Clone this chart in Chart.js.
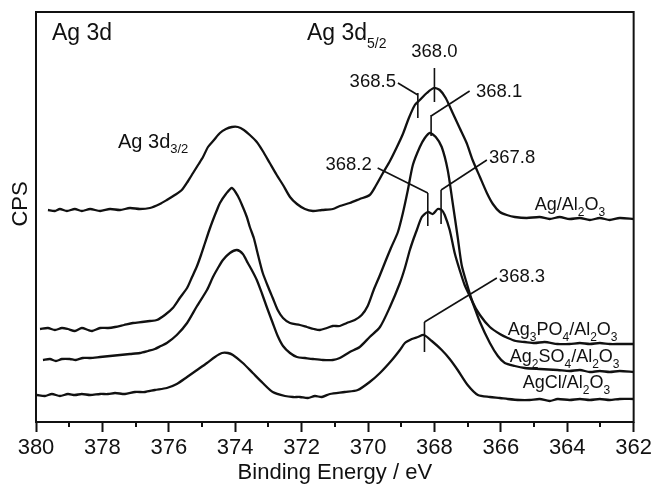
<!DOCTYPE html>
<html>
<head>
<meta charset="utf-8">
<script src="https://cdn.jsdelivr.net/npm/chart.js@4.4.1/dist/chart.umd.min.js"></script>
<style>
  html, body { margin: 0; padding: 0; background: #fff; }
  #wrap { width: 655px; height: 484px; }
</style>
</head>
<body>
<div id="wrap"><canvas id="myChart" width="655" height="484"></canvas></div>
<script>
// [binding energy (eV), CPS (arb. units)]
const agAl2O3 = [
  [379.64,212],[379.43,211],[379.28,213],[379.07,211],[378.83,213],[378.62,211],[378.37,213],[378.07,211],
  [377.77,213],[377.47,212],[377.17,214],[376.87,213],[376.57,214],[376.27,218],[376.06,222],[375.82,227],
  [375.61,232],[375.42,241],[375.27,249],[375.12,257],[374.97,265],[374.82,275],[374.64,282],[374.46,289],
  [374.28,293],[374.10,295],[373.92,295],[373.74,292],[373.56,287],[373.35,280],[373.17,271],[372.96,259],
  [372.75,247],[372.56,237],[372.35,225],[372.14,218],[371.90,213],[371.66,211],[371.39,212],[371.06,213],
  [370.85,216],[370.55,219],[370.25,223],[369.95,227],[369.77,236],[369.55,249],[369.34,261],[369.13,275],
  [368.95,288],[368.77,304],[368.59,317],[368.44,322],[368.23,329],[368.02,334],[367.84,332],[367.66,324],
  [367.45,309],[367.24,294],[367.03,279],[366.85,262],[366.63,245],[366.42,229],[366.24,218],[366.03,210],
  [365.82,207],[365.58,205],[365.22,204],[364.83,205],[364.53,203],[364.23,205],[363.93,203],[363.62,204],
  [363.32,202],[363.02,204],[362.72,202],[362.42,204],[362.00,203]
];
const ag3PO4 = [
  [379.88,93],[379.64,94],[379.43,92],[379.22,94],[379.04,93],[378.83,91],[378.62,94],[378.43,92],
  [378.31,91],[378.07,94],[377.83,94],[377.62,95],[377.35,97],[377.08,99],[376.81,100],[376.57,101],
  [376.36,102],[376.12,107],[375.88,114],[375.67,124],[375.45,134],[375.30,145],[375.15,156],[375.03,167],
  [374.91,179],[374.79,191],[374.67,202],[374.55,212],[374.46,219],[374.28,228],[374.10,234],[373.92,226],
  [373.77,215],[373.65,205],[373.56,195],[373.44,184],[373.35,172],[373.26,160],[373.17,149],[373.02,136],
  [372.87,124],[372.72,112],[372.56,104],[372.35,99],[372.05,97],[371.84,95],[371.63,93],[371.45,92],
  [371.24,94],[371.06,96],[370.85,96],[370.64,99],[370.40,102],[370.19,107],[370.01,116],[369.83,132],
  [369.64,147],[369.46,162],[369.31,174],[369.10,190],[368.95,209],[368.80,232],[368.65,257],[368.44,275],
  [368.29,284],[368.14,289],[367.96,285],[367.78,275],[367.60,252],[367.45,219],[367.30,185],[367.18,157],
  [367.03,139],[366.85,120],[366.63,107],[366.33,95],[366.03,88],[365.79,84],[365.55,81],[365.28,80],
  [364.98,79],[364.68,80],[364.29,78],[363.93,78],[363.62,79],[363.32,78],[363.02,79],[362.72,78],
  [362.42,78],[362.00,78]
];
const ag2SO4 = [
  [379.79,62],[379.58,63],[379.40,61],[379.22,63],[378.98,63],[378.80,62],[378.59,64],[378.37,64],
  [378.07,65],[377.77,66],[377.47,67],[377.17,68],[376.87,69],[376.63,71],[376.42,73],[376.24,76],
  [376.06,79],[375.76,87],[375.45,99],[375.15,116],[374.85,132],[374.67,145],[374.52,154],[374.37,162],
  [374.16,169],[373.95,172],[373.77,168],[373.62,159],[373.47,150],[373.35,142],[373.20,129],[373.05,115],
  [372.87,99],[372.72,86],[372.56,76],[372.35,69],[372.14,65],[371.90,64],[371.66,63],[371.36,62],
  [371.06,62],[370.85,64],[370.55,70],[370.25,75],[369.95,85],[369.64,95],[369.34,115],[369.04,139],
  [368.89,154],[368.74,172],[368.62,184],[368.53,192],[368.38,205],[368.20,210],[368.05,208],[367.90,213],
  [367.78,212],[367.69,207],[367.54,192],[367.39,169],[367.24,152],[367.09,137],[366.88,122],[366.63,100],
  [366.33,79],[366.09,66],[365.88,59],[365.58,56],[365.28,54],[364.83,53],[364.29,52],[363.93,51],
  [363.62,52],[363.32,50],[363.02,51],[362.72,50],[362.42,51],[362.00,50]
];
const agCl = [
  [379.97,27],[379.73,26],[379.52,28],[379.28,26],[379.04,28],[378.83,27],[378.62,28],[378.37,27],
  [378.07,28],[377.83,28],[377.62,29],[377.32,28],[377.02,30],[376.72,30],[376.42,32],[376.06,34],
  [375.76,38],[375.45,45],[375.15,52],[374.85,59],[374.61,65],[374.40,69],[374.22,69],[374.07,67],
  [373.77,59],[373.47,49],[373.17,39],[372.87,30],[372.50,26],[372.26,25],[372.05,25],[371.81,24],
  [371.60,26],[371.39,25],[371.15,28],[370.70,30],[370.31,32],[369.95,40],[369.64,49],[369.28,62],
  [369.04,72],[368.89,79],[368.68,83],[368.50,85],[368.32,87],[368.08,81],[367.78,72],[367.54,63],
  [367.30,52],[367.00,37],[366.69,27],[366.33,25],[366.03,24],[365.79,23],[365.43,22],[365.13,22],
  [364.83,23],[364.53,21],[364.29,23],[363.93,22],[363.62,23],[363.32,22],[363.02,23],[362.72,22],
  [362.42,23],[362.00,23]
];
const minorTicks = [379, 377, 375, 373, 371, 369, 367, 365, 363];

// text pieces between | are subscripts
const seriesLabels = [
  {text: 'Ag/Al|2|O|3', at: [364.98, 212]},
  {text: 'Ag|3|PO|4|/Al|2|O|3', at: [365.79, 87]},
  {text: 'Ag|2|SO|4|/Al|2|O|3', at: [365.73, 60]},
  {text: 'AgCl/Al|2|O|3', at: [365.34, 34]}
];
const regionLabels = [
  {text: 'Ag 3d', at: [379.52, 382], size: 23},
  {text: 'Ag 3d|5/2', at: [371.84, 382], size: 23, sub: 14, drop: 8},
  {text: 'Ag 3d|3/2', at: [377.53, 274], size: 20, sub: 13, drop: 5}
];
const peakNotes = [
  {text: '368.0', at: [368.0, 365], align: 'center', lines: [[[368.0, 354], [368.0, 320]]]},
  {text: '368.5', at: [369.16, 335], align: 'right', lines: [[[369.10, 339], [368.5, 327]], [[368.5, 329], [368.5, 304]]]},
  {text: '368.1', at: [366.75, 325], align: 'left', lines: [[[366.94, 331], [368.1, 306]], [[368.1, 307], [368.1, 286]]]},
  {text: '368.2', at: [369.89, 252], align: 'right', lines: [[[369.71, 254], [368.2, 229]], [[368.2, 229], [368.2, 196]]]},
  {text: '367.8', at: [366.36, 259], align: 'left', lines: [[[366.42, 262], [367.8, 232]], [[367.8, 232], [367.8, 198]]]},
  {text: '368.3', at: [366.06, 140], align: 'left', lines: [[[366.12, 144], [368.3, 100]], [[368.3, 100], [368.3, 70]]]}
];

const FONT = '"Liberation Sans", Arial, Helvetica, sans-serif';
const INK = '#111';

function drawRich(ctx, text, px, py, size, subSize, drop, align) {
  const parts = text.split('|');
  let w = 0;
  parts.forEach((t, i) => {
    ctx.font = (i % 2 ? subSize : size) + 'px ' + FONT;
    w += ctx.measureText(t).width;
  });
  let cx = px;
  if (align === 'right') cx = px - w;
  if (align === 'center') cx = px - w / 2;
  ctx.textAlign = 'left';
  ctx.textBaseline = 'alphabetic';
  parts.forEach((t, i) => {
    ctx.font = (i % 2 ? subSize : size) + 'px ' + FONT;
    ctx.fillText(t, cx, i % 2 ? py + drop : py);
    cx += ctx.measureText(t).width;
  });
}

const decorations = {
  id: 'decorations',
  afterDraw(chart) {
    const {ctx, chartArea: a, scales: {x, y}} = chart;
    ctx.save();
    ctx.strokeStyle = INK;
    ctx.fillStyle = INK;

    // frame
    ctx.lineWidth = 2;
    ctx.strokeRect(a.left, a.top, a.right - a.left, a.bottom - a.top);

    // minor ticks
    minorTicks.forEach(v => {
      const px = Math.round(x.getPixelForValue(v));
      ctx.beginPath();
      ctx.moveTo(px, a.bottom);
      ctx.lineTo(px, a.bottom + 5);
      ctx.stroke();
    });

    // y title
    ctx.save();
    ctx.translate(a.left - 15, y.getPixelForValue(218));
    ctx.rotate(-Math.PI / 2);
    ctx.font = '22px ' + FONT;
    ctx.textAlign = 'center';
    ctx.textBaseline = 'middle';
    ctx.fillText('CPS', 0, 0);
    ctx.restore();

    regionLabels.forEach(l => {
      drawRich(ctx, l.text, x.getPixelForValue(l.at[0]), y.getPixelForValue(l.at[1]), l.size, l.sub || l.size, l.drop || 0, 'left');
    });
    seriesLabels.forEach(l => {
      drawRich(ctx, l.text, x.getPixelForValue(l.at[0]), y.getPixelForValue(l.at[1]), 18, 12, 6, 'left');
    });

    ctx.lineWidth = 1.6;
    peakNotes.forEach(n => {
      n.lines.forEach(seg => {
        ctx.beginPath();
        seg.forEach((p, i) => {
          const px = x.getPixelForValue(p[0]), py = y.getPixelForValue(p[1]);
          if (i === 0) ctx.moveTo(px, py); else ctx.lineTo(px, py);
        });
        ctx.stroke();
      });
      drawRich(ctx, n.text, x.getPixelForValue(n.at[0]), y.getPixelForValue(n.at[1]), 18.5, 18.5, 0, n.align);
    });
    ctx.restore();
  }
};

const ctx = document.getElementById('myChart');
const allSeries = [agAl2O3, ag3PO4, ag2SO4, agCl];

new Chart(ctx, {
  type: 'line',
  data: {
    datasets: allSeries.map(s => ({
      data: s.map(p => ({x: p[0], y: p[1]})),
      borderColor: INK,
      borderWidth: 2.3,
      pointRadius: 0,
      tension: 0.25,
      fill: false
    }))
  },
  options: {
    responsive: false,
    animation: false,
    devicePixelRatio: 1,
    layout: {padding: {top: 12, right: 21, left: 0, bottom: 0}},
    plugins: {legend: {display: false}, tooltip: {enabled: false}},
    scales: {
      x: {
        type: 'linear',
        reverse: true,
        min: 362,
        max: 380,
        ticks: {stepSize: 2, autoSkip: false, maxRotation: 0, color: INK, padding: 3,
                font: {family: FONT, size: 22}},
        grid: {drawOnChartArea: false, drawTicks: true, tickLength: 10, tickWidth: 2, tickColor: INK},
        border: {display: false},
        title: {display: true, text: 'Binding Energy / eV', color: INK, padding: 0,
                font: {family: FONT, size: 22, lineHeight: 1}},
        afterFit(s) { s.height = 62; }
      },
      y: {
        min: 0,
        max: 410,
        ticks: {display: false},
        grid: {display: false},
        border: {display: false},
        afterFit(s) { s.width = 36; }
      }
    }
  },
  plugins: [decorations]
});
</script>
</body>
</html>
